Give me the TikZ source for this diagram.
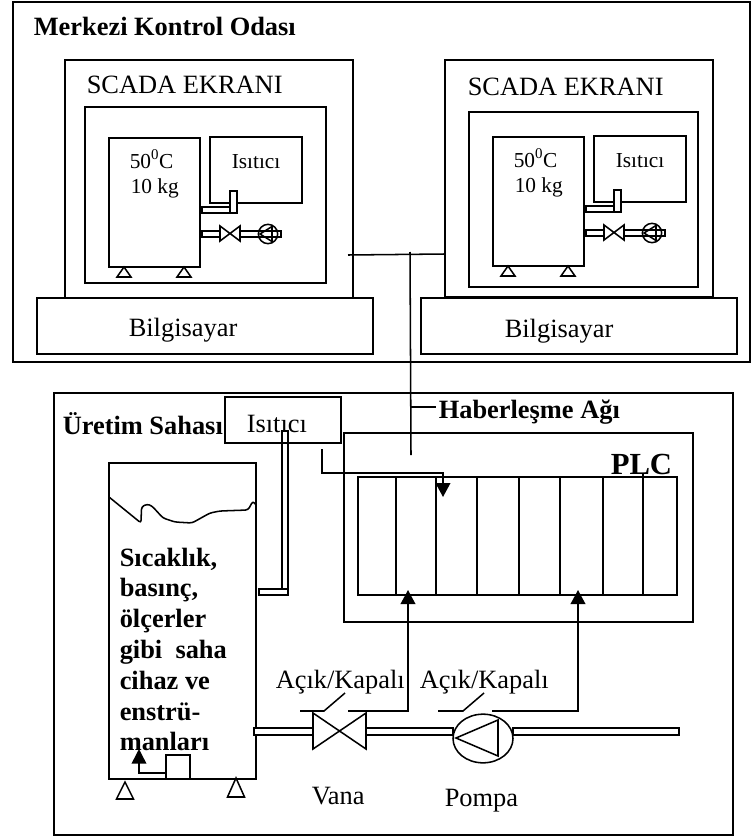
\documentclass[tikz,border=0pt]{standalone}
\usepackage{fontspec}
\setmainfont{Liberation Serif}
\usetikzlibrary{shapes, arrows.meta, positioning, calc}

\begin{document}
\begin{tikzpicture}[
        x=0.75pt, y=-0.75pt,
        line width=1.15pt,
        box/.style={draw, inner sep=0pt, outer sep=0pt},
        size/.style 2 args={minimum width=#1*0.75pt, minimum height=#2*0.75pt},
        pipe/.style={box, fill=white},
        lbl/.style={anchor=base west, inner sep=0pt, font=\fontsize{19.8}{23}\selectfont},
        lblb/.style={lbl, font=\fontsize{19.8}{23}\selectfont\bfseries},
        lbls/.style={lbl, font=\fontsize{16}{19}\selectfont},
        arr/.style={-{Triangle[width=11pt,length=10.5pt]}}
    ]
        \useasboundingbox (0,0) rectangle (751,838);

        % control room
        \node[box, size={737}{360}] (room) at (381.5,182) {};
        \node[lblb] (roomtxt) at (33,36) {Merkezi Kontrol Odası};
        \node[box, size={288}{238}] (scrA) at (209,179) {};
        \node[box, size={241}{176}] (innerA) at (205.5,195) {};
        \node[box, size={268}{237}] (scrB) at (579,178.5) {};
        \node[box, size={229}{175}] (innerB) at (583.5,199.5) {};
        \node[lbl] (scrtxtA) at (86,94) {SCADA EKRANI};
        \node[lbl] (scrtxtB) at (467,96) {SCADA EKRANI};
        \node[box, size={336}{56}] (pcA) at (205,326) {};
        \node[box, size={316}{56}] (pcB) at (579,326) {};
        \node[lbl] (pctxtA) at (128,336) {Bilgisayar};
        \node[lbl] (pctxtB) at (504,337) {Bilgisayar};

        % screen picture, twice
        \foreach \dx/\dy/\s in {0/0/A, 384/-1/B} {
            \begin{scope}[shift={(\dx,\dy)}]
                \node[box, size={91}{129}] (tank\s) at (154.5,202.5) {};
                \node[box, size={92}{66}] (heat\s) at (256,170) {};
                \node[lbls] (temp\s) at (129,168) {50\textsuperscript{0}C};
                \node[lbls] (mass\s) at (130,193) {10 kg};
                \node[lbls] (heattxt\s) at (231,168) {Isıtıcı};
                \node[pipe, size={29}{6}] (pipea\s) at (216.5,210) {};
                \node[pipe, size={7}{22}] (pipeb\s) at (233.5,202) {};
                \node[pipe, size={18}{6}] (pipec\s) at (211,234) {};
                \node[pipe, size={41}{6}] (piped\s) at (260.5,234) {};
                \draw (220,226) -- (240,241) -- (240,226) -- (220,241) -- cycle;
                \node[draw, circle, inner sep=0pt, minimum size=14.5pt] (pump\s) at (268,234) {};
                \draw (260,234) -- (272,226.5) -- (272,241.5) -- cycle;
                \draw (124,267) -- (131,277) -- (117,277) -- cycle;
                \draw (184,267) -- (191,277) -- (177,277) -- cycle;
            \end{scope}
        }

        % field
        \node[box, size={679}{442}] (field) at (393.5,614) {};
        \node[lblb] (fieldtxt) at (62,434) {Üretim Sahası};
        \node[box, size={116}{46}] (heatC) at (283,420) {};
        \node[lbl] (heattxtC) at (246,432) {Isıtıcı};
        \node[box, size={349}{189}] (plc) at (518.5,527.5) {};
        \node[lblb, font=\fontsize{23}{27}\selectfont\bfseries] (plctxt) at (610,474) {PLC};
        \node[box, size={319}{118}] (rack) at (517.5,536) {};
        \foreach \x in {396,436,477,519,560,603} {
            \draw (\x,477) -- (\x,595);
        }
        \draw (643,474) -- (643,595);

        \node[box, size={147}{316}] (tankC) at (182.5,621) {};
        \draw[rounded corners=2pt] (109,497) -- (141,523) -- (141.5,507) -- (147,504) -- (152,506) -- (163,518) -- (175,522) -- (192,523) -- (210,513) -- (220,511) -- (248,510) -- (253,501) -- (256,505);
        \node[lblb, align=left, font=\fontsize{19.8}{23.1}\selectfont\bfseries, anchor=north west] (tanktxt) at (119,547) {Sıcaklık,\\basınç,\\ölçerler\\gibi\ \ saha\\cihaz ve\\enstrü-\\manları};
        \node[box, size={24}{24}] (sensor) at (178,767) {};
        \coordinate (sensortip) at (139,749);
        \draw[arr, -{Triangle[width=11pt,length=11pt]}] (sensor.west |- 0,773) -| (sensortip);
        \draw (125,782) -- (133.5,799) -- (116.5,799) -- cycle;
        \draw (236,778) -- (244.5,797) -- (227.5,797) -- cycle;

        % heater pipe
        \node[pipe, size={29}{6}] (pipeh) at (273.5,592) {};
        \node[pipe, fill=none, size={6}{158}] (pipev) at (285,510) {};

        % process line
        \node[pipe, size={59}{7}] (linea) at (283.5,731.5) {};
        \node[pipe, size={87}{7}] (lineb) at (409.5,731.5) {};
        \node[pipe, size={166}{7}] (linec) at (596,731.5) {};
        \draw (313,713) -- (366,749) -- (366,713) -- (313,749) -- cycle;
        \node[draw, ellipse, inner sep=0pt, minimum width=45pt, minimum height=36.5pt, fill=white] (pump) at (483,738.5) {};
        \draw (456,738) -- (498,720) -- (498,756) -- cycle;
        \node[lbl] (valvetxt) at (311,804) {Vana};
        \node[lbl] (pumptxt) at (444,806) {Pompa};

        % switches
        \node[lbl] (swtxtA) at (275,688) {Açık/Kapalı};
        \node[lbl] (swtxtB) at (419,688) {Açık/Kapalı};
        \coordinate (swAa) at (300,711);
        \coordinate (swAb) at (324,711);
        \coordinate (swAc) at (345,693);
        \coordinate (swAd) at (348,711);
        \coordinate (tipA) at (408,590);
        \coordinate (swBa) at (438,711);
        \coordinate (swBb) at (463,711);
        \coordinate (swBc) at (484,693);
        \coordinate (swBd) at (492,711);
        \coordinate (tipB) at (578,590);
        \draw (swAa) -- (swAb) -- (swAc);
        \draw (swBa) -- (swBb) -- (swBc);
        \draw[arr] (swAd) -| (tipA);
        \draw[arr] (swBd) -| (tipB);

        % heater signal
        \coordinate (sigstart) at (322,449);
        \coordinate (sigbend) at (443,473);
        \coordinate (sigtip) at (443,497);
        \draw[arr] (sigstart) |- (sigbend) -- (sigtip);

        % network
        \coordinate (netA) at (348,255);
        \coordinate (netB) at (445,254);
        \coordinate (nettop) at (410,252);
        \coordinate (netend) at (411,455);
        \coordinate (nettap) at (411,407);
        \coordinate (nettxtl) at (436,407);
        \draw (netA) -- (netB);
        \draw (nettop) -- (netend);
        \draw (nettap) -- (nettxtl);
        \node[lblb] (nettxt) at (438,418) {Haberleşme Ağı};
    \end{tikzpicture}
\end{document}
